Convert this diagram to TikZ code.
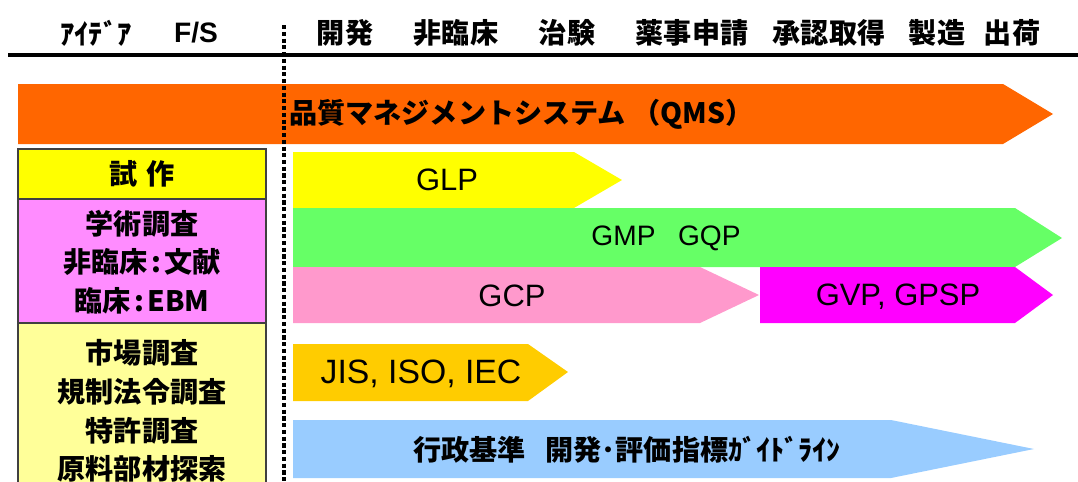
\documentclass[tikz,border=0pt]{standalone}
\usepackage{fontspec}
\newfontfamily\jpfont{Noto Sans CJK JP}
\newfontfamily\arialfont{Liberation Sans}
\usepackage{tikz}
\usepackage{xcolor}

\definecolor{qmsorange}{HTML}{FF6600}
\definecolor{glpyellow}{HTML}{FFFF00}
\definecolor{gmpgreen}{HTML}{66FF66}
\definecolor{gcppink}{HTML}{FF99CC}
\definecolor{gvpmagenta}{HTML}{FF00FF}
\definecolor{jisgold}{HTML}{FFCC00}
\definecolor{guideblue}{HTML}{99CCFF}
\definecolor{surveypink}{HTML}{FF8CFF}
\definecolor{surveyyellow}{HTML}{FFFF99}

\begin{document}
\begin{tikzpicture}[x=0.025cm,y=-0.025cm,
  jp/.style={font=\jpfont\bfseries\fontsize{20}{27.4}\selectfont,align=center,inner sep=0pt},
  lat/.style={font=\arialfont\fontsize{22}{26}\selectfont,inner sep=0pt},
  boxline/.style={draw=black!75,line width=1pt}]
  \useasboundingbox (0,0) rectangle (1078,481);

  % header row
  \node[jp] (idea) at (96,33) {ｱｲﾃﾞｱ};
  \node[lat,font=\arialfont\bfseries\fontsize{20}{24}\selectfont] (fs) at (196,33) {F/S};
  \node[jp] (kaihatsu) at (345,33) {開発};
  \node[jp] (hirinsho) at (456,33) {非臨床};
  \node[jp] (chiken) at (567,33) {治験};
  \node[jp] (shinsei) at (692,33) {薬事申請};
  \node[jp] (shonin) at (829,33) {承認取得};
  \node[jp] (seizo) at (937,33) {製造};
  \node[jp] (shukka) at (1012,33) {出荷};
  \draw[line width=3.5pt] (8,55) -- (1078,55);

  % quality management system
  \fill[qmsorange] (18,84) -- (1003,84) -- (1053,114) -- (1003,144) -- (18,144) -- cycle;
  \node[jp,anchor=west] (qms) at (289,114) {品質マネジメントシステム （QMS）};

  % left column
  \filldraw[boxline,fill=glpyellow] (18,149) rectangle (266,199);
  \filldraw[boxline,fill=surveypink] (18,199) rectangle (266,323);
  \filldraw[boxline,fill=surveyyellow] (18,323) rectangle (266,495);
  \node[jp] (shisaku) at (142,174) {試\hspace{0.3em}作};
  \node[jp] (gakujutsu) at (142,262) {学術調査\\非臨床\hspace{0.12em}:\hspace{0.12em}文献\\臨床\hspace{0.12em}:\hspace{0.12em}EBM};
  \node[jp] (chosa) at (142,411) {市場調査\\規制法令調査\\特許調査\\原料部材探索};

  % guidelines
  \fill[glpyellow] (293,152) -- (574,152) -- (622,180) -- (574,208) -- (293,208) -- cycle;
  \node[lat] (glp) at (447,180) {GLP};
  \fill[gmpgreen] (293,208) -- (1015,208) -- (1062,238) -- (1015,267) -- (293,267) -- cycle;
  \node[lat,font=\arialfont\fontsize{20}{24}\selectfont] (gmp) at (666,238) {GMP\hspace{0.8em}GQP};
  \fill[gcppink] (293,267) -- (700,267) -- (759,295) -- (700,323) -- (293,323) -- cycle;
  \node[lat] (gcp) at (512,296) {GCP};
  \fill[gvpmagenta] (760,267) -- (1015,267) -- (1053,295) -- (1015,323) -- (760,323) -- cycle;
  \node[lat] (gvp) at (898,297) {GVP, GPSP};
  \fill[jisgold] (293,344) -- (528,344) -- (568,372) -- (528,401) -- (293,401) -- cycle;
  \node[lat,font=\arialfont\fontsize{24}{28}\selectfont] (jis) at (421,374) {JIS, ISO, IEC};
  \fill[guideblue] (293,420) -- (891,420) -- (1034,449) -- (891,478) -- (293,478) -- cycle;
  \node[jp,anchor=west] (guide) at (413,450) {行政基準\hspace{0.7em}開発･評価指標ｶﾞｲﾄﾞﾗｲﾝ};

  % border between F/S and development
  \draw[line width=3pt,dash pattern=on 3pt off 1.8pt] (284,25) -- (284,481);
\end{tikzpicture}
\end{document}
